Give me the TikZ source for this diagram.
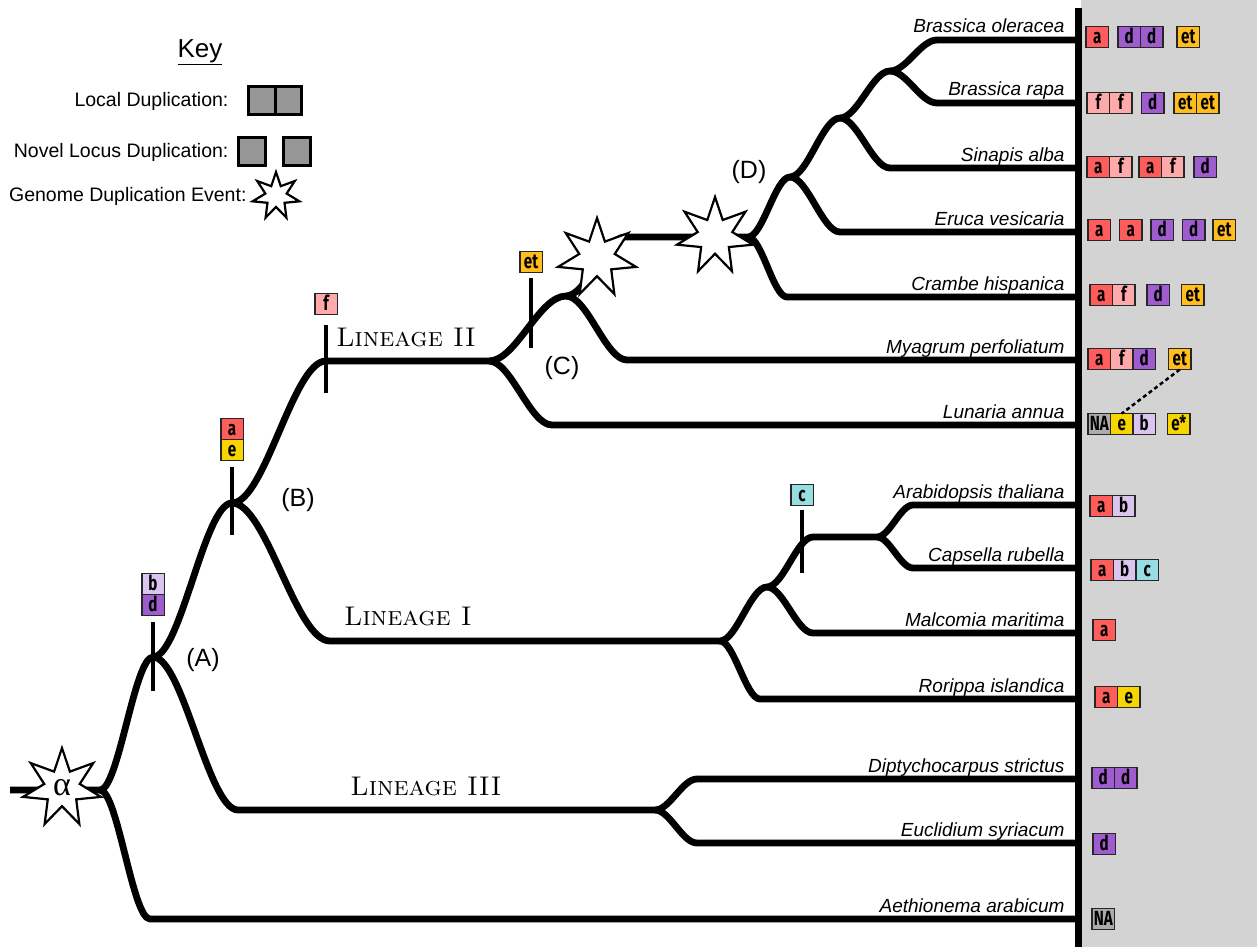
\documentclass[tikz,border=0pt]{standalone}
\usepackage{fontspec}
\newfontfamily\sansfont{Liberation Sans}
\newfontfamily\greekfont{Liberation Serif}
\newfontfamily\genefont[FakeStretch=0.74]{Fira Sans}
\usetikzlibrary{shapes.geometric,positioning,calc}

\definecolor{ga}{RGB}{255,92,92}
\definecolor{gb}{RGB}{218,197,238}
\definecolor{gc}{RGB}{150,222,226}
\definecolor{gd}{RGB}{158,92,206}
\definecolor{ge}{RGB}{247,214,0}
\definecolor{get}{RGB}{255,190,30}
\definecolor{gf}{RGB}{255,170,170}
\definecolor{gna}{RGB}{172,172,172}
\definecolor{keygray}{RGB}{150,150,150}
\definecolor{panel}{RGB}{211,211,211}

\begin{document}
\begin{tikzpicture}[x=1pt, y=-1pt,
    branch/.style={line width=6.8pt, line join=round},
    sig/.style={to path={.. controls ($(\tikztostart)!0.35!(\tikztotarget|-\tikztostart)$) and ($(\tikztotarget)!0.35!(\tikztostart|-\tikztotarget)$) .. (\tikztotarget)}},
    tick/.style={line width=4pt},
    gn/.style={draw=black!85, line width=1.5pt, fill=#1, minimum width=22.5pt, minimum height=21pt, inner sep=0pt, outer sep=0pt, text height=13.5pt, text depth=0pt, font=\genefont\bfseries\fontsize{20.5}{20}\selectfont},
    keybox/.style={draw, line width=3pt, fill=keygray, inner sep=0pt, outer sep=0pt, minimum width=#1, minimum height=28pt},
    wgd/.style={star, star points=7, star point ratio=2.2, draw, fill=white, line width=2.2pt, inner sep=0pt, minimum size=#1},
    taxon/.style={anchor=base east, font=\sansfont\itshape\fontsize{19}{22}\selectfont},
    keytext/.style={anchor=east, font=\sansfont\fontsize{19.5}{22}\selectfont},
    clade/.style={font=\sansfont\fontsize{25}{27}\selectfont},
    lin/.style={anchor=base, font=\fontsize{27}{29}\selectfont\scshape},
    dotline/.style={line width=2.5pt, dash pattern=on 4pt off 3pt}
]
\useasboundingbox (0,0) rectangle (1257,947);
\fill[panel] (1081,0) rectangle (1257,947);

\coordinate (top) at (1078,8);
\coordinate (bot) at (1078,947);
\coordinate (stem) at (10,790);
\coordinate (root) at (100,790);
\coordinate (nA) at (153,657);
\coordinate (kAe) at (150,919);
\coordinate (nB) at (232,503);
\coordinate (kIII) at (238,810);
\coordinate (nIII) at (655,810);
\coordinate (kDi) at (697,779);
\coordinate (kEu) at (697,843);
\coordinate (kII) at (326,361);
\coordinate (nII) at (489,361);
\coordinate (kI) at (330,641);
\coordinate (nI) at (720,641);
\coordinate (n4) at (767,587);
\coordinate (kRo) at (760,699);
\coordinate (kCg) at (813,537);
\coordinate (n5) at (877,537);
\coordinate (kMa) at (813,633);
\coordinate (kAr) at (913,505);
\coordinate (kCa) at (913,568);
\coordinate (nC) at (566,296);
\coordinate (kLu) at (552,425);
\coordinate (kMy) at (627,360);
\coordinate (kW) at (625,237);
\coordinate (nD) at (748,237);
\coordinate (kCr) at (787,297);
\coordinate (n1) at (790,177);
\coordinate (kEr) at (840,232);
\coordinate (n2) at (840,118);
\coordinate (kSi) at (890,168);
\coordinate (n3) at (890,71);
\coordinate (kBo) at (937,40);
\coordinate (kBr) at (937,103);

\draw[branch] (stem) -- (root) to[sig] (nA) to[sig] (nB) to[sig] (kII) -- (nII) to[sig] (nC) to[sig] (kW) -- (nD) to[sig] (n1) to[sig] (n2) to[sig] (n3) to[sig] (kBo) -- (kBo -| top);
\draw[branch] (n3) to[sig] (kBr) -- (kBr -| top);
\draw[branch] (n2) to[sig] (kSi) -- (kSi -| top);
\draw[branch] (n1) to[sig] (kEr) -- (kEr -| top);
\draw[branch] (nD) to[sig] (kCr) -- (kCr -| top);
\draw[branch] (nC) to[sig] (kMy) -- (kMy -| top);
\draw[branch] (nII) to[sig] (kLu) -- (kLu -| top);
\draw[branch] (nB) to[sig] (kI) -- (nI) to[sig] (n4) to[sig] (kCg) -- (n5) to[sig] (kAr) -- (kAr -| top);
\draw[branch] (n5) to[sig] (kCa) -- (kCa -| top);
\draw[branch] (n4) to[sig] (kMa) -- (kMa -| top);
\draw[branch] (nI) to[sig] (kRo) -- (kRo -| top);
\draw[branch] (nA) to[sig] (kIII) -- (nIII) to[sig] (kDi) -- (kDi -| top);
\draw[branch] (nIII) to[sig] (kEu) -- (kEu -| top);
\draw[branch] (root) to[sig] (kAe) -- (kAe -| top);
\draw[line width=7pt] (top) -- (bot);

\node[wgd=80pt, font=\greekfont\fontsize{34}{34}\selectfont] (alpha) at (62,788) {α};
\node[wgd=80pt] (wgd1) at (597,258) {};
\node[wgd=78pt] (wgd2) at (715,236) {};

\node[gn=gb] (tA1) at (153,584) {b};
\node[gn=gd, below=0pt of tA1] (tA2) {d};
\node[gn=ga] (tB1) at (232,429) {a};
\node[gn=ge, below=0pt of tB1] (tB2) {e};
\node[gn=gf] (tII) at (326,304) {f};
\node[gn=get] (tC) at (531,262) {et};
\node[gn=gc] (tAr) at (802,495) {c};
\draw[tick] ([yshift=-6pt]tA2.south) -- ++(0,69);
\draw[tick] ([yshift=-6pt]tB2.south) -- ++(0,68);
\draw[tick] ([yshift=-10pt]tII.south) -- ++(0,68);
\draw[tick] ([yshift=-5pt]tC.south) -- ++(0,70);
\draw[tick] ([yshift=-4pt]tAr.south) -- ++(0,63);

\node[clade] (cA) at (203,660) {(A)};
\node[clade] (cB) at (298,500) {(B)};
\node[clade] (cC) at (562,368) {(C)};
\node[clade] (cD) at (749,172) {(D)};
\node[lin] (linII) at (406,346) {Lineage II};
\node[lin] (linI) at (408,625) {Lineage I};
\node[lin] (linIII) at (426,795) {Lineage III};

\node[taxon] (lBo) at (1068,33) {Brassica oleracea};
\node[taxon] (lBr) at (1068,96) {Brassica rapa};
\node[taxon] (lSi) at (1068,161) {Sinapis alba};
\node[taxon] (lEr) at (1068,225) {Eruca vesicaria};
\node[taxon] (lCr) at (1068,290) {Crambe hispanica};
\node[taxon] (lMy) at (1068,353) {Myagrum perfoliatum};
\node[taxon] (lLu) at (1068,418) {Lunaria annua};
\node[taxon] (lAr) at (1068,498) {Arabidopsis thaliana};
\node[taxon] (lCa) at (1068,561) {Capsella rubella};
\node[taxon] (lMa) at (1068,626) {Malcomia maritima};
\node[taxon] (lRo) at (1068,692) {Rorippa islandica};
\node[taxon] (lDi) at (1068,772) {Diptychocarpus strictus};
\node[taxon] (lEu) at (1068,836) {Euclidium syriacum};
\node[taxon] (lAe) at (1068,912) {Aethionema arabicum};

\node[gn=ga, anchor=west] (bo1) at (1086,37) {a};
\node[gn=gd, right=9.5pt of bo1] (bo2) {d};
\node[gn=gd, right=0pt of bo2] (bo3) {d};
\node[gn=get, right=14pt of bo3] (bo4) {et};

\node[gn=gf, anchor=west] (br1) at (1087,103) {f};
\node[gn=gf, right=0pt of br1] (br2) {f};
\node[gn=gd, right=9.5pt of br2] (br3) {d};
\node[gn=get, right=10pt of br3] (br4) {et};
\node[gn=get, right=0pt of br4] (br5) {et};

\node[gn=ga, anchor=west] (si1) at (1087,167) {a};
\node[gn=gf, right=0pt of si1] (si2) {f};
\node[gn=ga, right=7pt of si2] (si3) {a};
\node[gn=gf, right=0pt of si3] (si4) {f};
\node[gn=gd, right=10pt of si4] (si5) {d};

\node[gn=ga, anchor=west] (er1) at (1088,230) {a};
\node[gn=ga, right=9pt of er1] (er2) {a};
\node[gn=gd, right=9pt of er2] (er3) {d};
\node[gn=gd, right=9pt of er3] (er4) {d};
\node[gn=get, right=8pt of er4] (er5) {et};

\node[gn=ga, anchor=west] (cr1) at (1090,295) {a};
\node[gn=gf, right=0pt of cr1] (cr2) {f};
\node[gn=gd, right=12pt of cr2] (cr3) {d};
\node[gn=get, right=12pt of cr3] (cr4) {et};

\node[gn=ga, anchor=west] (my1) at (1088,359) {a};
\node[gn=gf, right=0pt of my1] (my2) {f};
\node[gn=gd, right=0pt of my2] (my3) {d};
\node[gn=get, right=13pt of my3] (my4) {et};

\node[gn=gna, anchor=west] (lu1) at (1088,424) {NA};
\node[gn=ge, right=0pt of lu1] (lu2) {e};
\node[gn=gb, right=0pt of lu2] (lu3) {b};
\node[gn=ge, right=12pt of lu3] (lu4) {e*};
\draw[dotline] (my4.south) -- (lu2.north);

\node[gn=ga, anchor=west] (ar1) at (1090,506) {a};
\node[gn=gb, right=0pt of ar1] (ar2) {b};

\node[gn=ga, anchor=west] (ca1) at (1091,570) {a};
\node[gn=gb, right=0pt of ca1] (ca2) {b};
\node[gn=gc, right=0pt of ca2] (ca3) {c};

\node[gn=ga, anchor=west] (ma1) at (1093,630) {a};

\node[gn=ga, anchor=west] (ro1) at (1095,697) {a};
\node[gn=ge, right=0pt of ro1] (ro2) {e};

\node[gn=gd, anchor=west] (di1) at (1092,778) {d};
\node[gn=gd, right=0pt of di1] (di2) {d};

\node[gn=gd, anchor=west] (eu1) at (1093,844) {d};

\node[gn=gna, anchor=west] (ae1) at (1092,919) {NA};

\node[font=\sansfont\fontsize{26}{28}\selectfont] (key) at (200,52) {\underline{Key}};
\node[keytext] (kl) at (232,101) {Local Duplication:};
\node[keybox=26.5pt] (kl1) at (261.75,100.5) {};
\node[keybox=26.5pt, right=0pt of kl1] (kl2) {};
\node[keytext] (kn) at (232,152) {Novel Locus Duplication:};
\node[keybox=27pt] (kn1) at (252,151) {};
\node[keybox=27pt, right=18pt of kn1] (kn2) {};
\node[keytext] (kg) at (250,196) {Genome Duplication Event:};
\node[wgd=48pt] (kstar) at (276,196) {};
\end{tikzpicture}
\end{document}
